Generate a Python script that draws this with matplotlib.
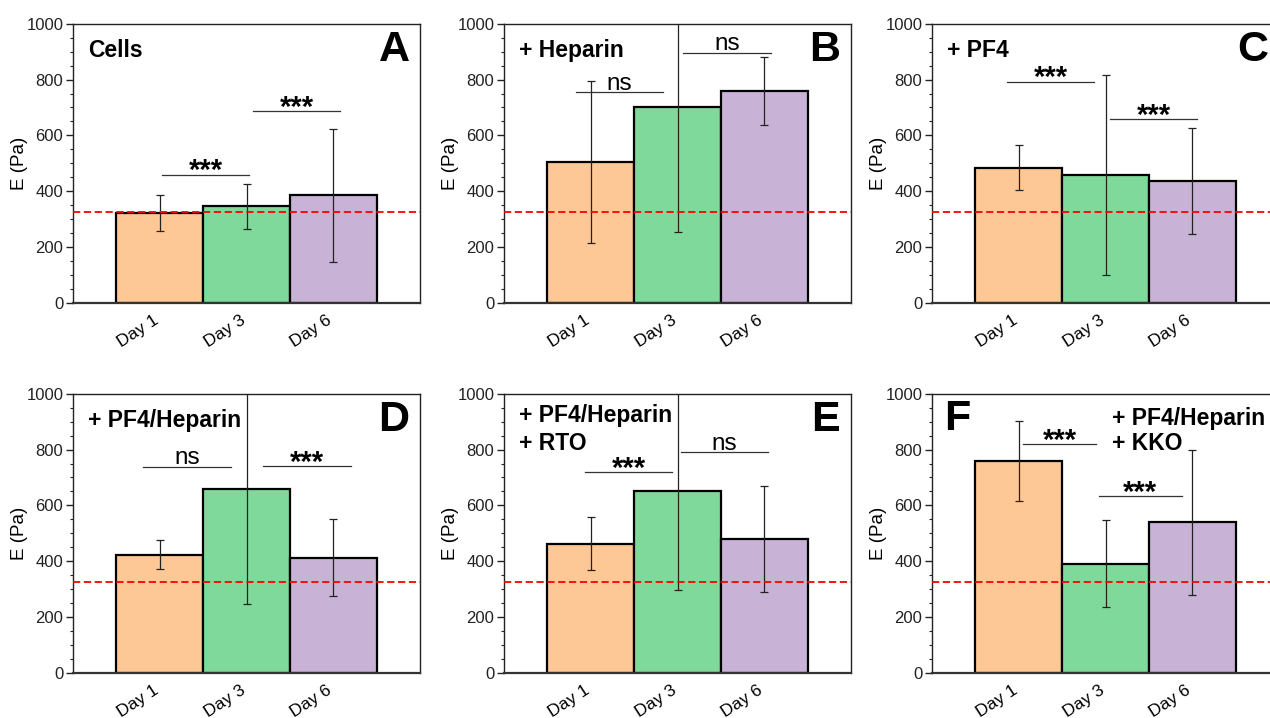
import matplotlib
matplotlib.use('Agg')
import matplotlib.pyplot as plt
from matplotlib.ticker import MultipleLocator
from matplotlib.transforms import ScaledTranslation

plt.rcParams['font.family'] = ['Liberation Sans', 'DejaVu Sans']

# data
days = ['Day 1', 'Day 3', 'Day 6']
panel_letters = ['A', 'B', 'C', 'D', 'E', 'F']
conditions = ['Cells', '+ Heparin', '+ PF4', '+ PF4/Heparin',
              '+ PF4/Heparin\n+ RTO', '+ PF4/Heparin\n+ KKO']
means = [
    [322, 346, 386],
    [504, 702, 760],
    [484, 460, 438],
    [424, 660, 413],
    [462, 652, 480],
    [760, 391, 539],
]
errors = [
    [65, 81, 238],
    [290, 448, 121],
    [81, 358, 190],
    [53, 414, 137],
    [95, 354, 190],
    [143, 155, 261],
]
baseline = 325
# significance brackets: (from, to, height, label)
brackets = [
    [(1.03, 2.03, 460, '***'), (2.08, 3.08, 686, '***')],
    [(0.83, 1.83, 754, 'ns'), (2.06, 3.08, 896, 'ns')],
    [(0.86, 1.87, 793, '***'), (2.05, 3.06, 657, '***')],
    [(0.81, 1.82, 737, 'ns'), (2.19, 3.20, 740, '***')],
    [(0.93, 1.94, 718, '***'), (2.04, 3.04, 790, 'ns')],
    [(1.05, 1.89, 820, '***'), (1.92, 2.88, 632, '***')],
]

colors = ['#FDC896', '#7FD99A', '#C8B2D6']

fig = plt.figure(figsize=(12.7, 7.18), dpi=100)
lefts = [0.0575, 0.3969, 0.7339]
bottoms = [0.578, 0.0627]
w, h = 0.2732, 0.389
shift = ScaledTranslation(-7 / 100, 0, fig.dpi_scale_trans)

for i in range(6):
    row, col = divmod(i, 3)
    ax = fig.add_axes([lefts[col], bottoms[row], w, h])
    x = [1, 2, 3]
    ax.bar(x, means[i], width=1.0, color=colors, edgecolor='black',
           linewidth=1.6, zorder=2)
    ax.errorbar(x, means[i], yerr=errors[i], fmt='none', ecolor='#222222',
                elinewidth=0.9, capsize=3, capthick=0.9, zorder=3)
    ax.axhline(baseline, color='#FF0000', linestyle=(0, (4, 2)),
               linewidth=1.3, zorder=4)

    for x0, x1, y, lab in brackets[i]:
        ax.plot([x0, x1], [y, y], color='#333333', linewidth=0.9, zorder=5)
        if lab == 'ns':
            ax.text((x0 + x1) / 2, y - 8, lab, ha='center', va='bottom',
                    fontsize=17.5)
        else:
            ax.text((x0 + x1) / 2, y - 38, lab, ha='center', va='bottom',
                    fontsize=21, fontweight='bold')

    # condition label
    if i == 5:
        ax.text(0.29, 910, panel_letters[i], ha='center', va='center',
                fontsize=31, fontweight='bold')
        ax.text(2.07, 910, '+ PF4/Heparin', ha='left', va='center',
                fontsize=16.5, fontweight='bold')
        ax.text(2.07, 821, '+ KKO', ha='left', va='center',
                fontsize=16.5, fontweight='bold')
    else:
        ax.text(3.7, 905, panel_letters[i], ha='center', va='center',
                fontsize=31, fontweight='bold')
        if i == 4:
            ax.text(0.17, 921, '+ PF4/Heparin', ha='left', va='center',
                    fontsize=16.5, fontweight='bold')
            ax.text(0.17, 821, '+ RTO', ha='left', va='center',
                    fontsize=16.5, fontweight='bold')
        else:
            ax.text(0.17, 904, conditions[i], ha='left', va='center',
                    fontsize=16.5, fontweight='bold')

    ax.set_xlim(0, 4)
    ax.set_ylim(0, 1000)
    ax.yaxis.set_major_locator(MultipleLocator(200))
    ax.yaxis.set_minor_locator(MultipleLocator(50))
    ax.tick_params(axis='y', which='major', direction='out', length=5,
                   width=1, labelsize=12, colors='#222222', pad=2)
    ax.tick_params(axis='y', which='minor', direction='out', length=2.5,
                   width=0.8, colors='#222222')
    ax.set_xticks(x)
    ax.set_xticklabels(days, rotation=33, ha='right', rotation_mode='anchor',
                       fontsize=12.5)
    ax.tick_params(axis='x', length=0, pad=7)
    for lbl in ax.get_xticklabels():
        lbl.set_transform(lbl.get_transform() + shift)
    ax.set_ylabel('E (Pa)', fontsize=13.5)
    ax.yaxis.set_label_coords(-0.13, 0.5)
    for s in ['top', 'right', 'left']:
        ax.spines[s].set_linewidth(1.0)
        ax.spines[s].set_color('#222222')
    ax.spines['bottom'].set_linewidth(1.6)
    ax.spines['bottom'].set_color('#333333')

fig.savefig('out.png', dpi=100)
